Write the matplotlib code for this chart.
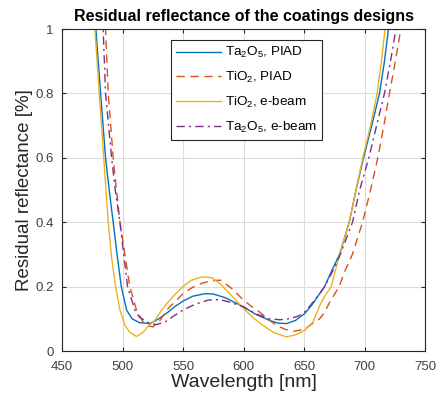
import matplotlib
matplotlib.use("Agg")
import matplotlib.pyplot as plt

plt.rcParams['font.family'] = ['Liberation Sans', 'DejaVu Sans']
plt.rcParams['mathtext.fontset'] = 'custom'
plt.rcParams['mathtext.rm'] = 'Liberation Sans'

# --- data (wavelength [nm], residual reflectance [%]) ---
wl_ta_piad = [476, 478, 481.9, 486, 489, 492.3, 495.5, 499, 503.4, 508, 514, 522.6, 530, 537.7, 544, 550,
              558, 568, 575, 584.5, 592, 600, 610, 621.6, 628, 635.4, 643, 650.5, 657, 662.9, 667, 673,
              679.4, 687.4, 693, 699.2, 706, 712.4, 716.5, 719.8, 722]
r_ta_piad = [1.12, 1.0, 0.8, 0.6, 0.5, 0.4, 0.3, 0.2, 0.127, 0.1, 0.088, 0.085, 0.1, 0.121, 0.14, 0.155,
             0.17, 0.178, 0.177, 0.166, 0.152, 0.137, 0.114, 0.095, 0.087, 0.085, 0.095, 0.116, 0.145, 0.178, 0.2, 0.25,
             0.3, 0.4, 0.5, 0.6, 0.7, 0.8, 0.9, 1.0, 1.07]

wl_ti_piad = [484, 486, 488.2, 492.3, 495, 497.9, 502, 506, 511.6, 517, 521, 525.3, 531, 537.7, 544, 550,
              558, 565.3, 573, 581, 590, 600, 606, 613.3, 620, 627, 634, 640.8, 647, 653.3, 658, 662.9,
              667, 671, 675, 679, 684, 690, 698.4, 705, 711, 716, 720.6, 725.5, 730, 732]
r_ti_piad = [1.12, 1.0, 0.8, 0.6, 0.5, 0.4, 0.3, 0.2, 0.127, 0.09, 0.078, 0.075, 0.095, 0.132, 0.155, 0.178,
             0.198, 0.21, 0.218, 0.22, 0.195, 0.158, 0.14, 0.121, 0.1, 0.08, 0.068, 0.061, 0.065, 0.075, 0.088, 0.1,
             0.12, 0.15, 0.175, 0.2, 0.25, 0.3, 0.4, 0.5, 0.6, 0.7, 0.8, 0.9, 1.0, 1.05]

wl_ti_eb = [475, 477.2, 480.8, 484.5, 488.2, 491, 494.3, 497.9, 502, 506, 511.6, 517, 522, 526.7, 532, 537.7,
            544, 550, 557, 565.3, 573.5, 580.4, 590, 600, 608, 616, 625, 635.4, 643, 650.5, 657.4, 662.9,
            667, 672.5, 679.4, 687.4, 693, 698.6, 705, 710.4, 714, 717, 719]
r_ti_eb = [1.12, 1.0, 0.8, 0.6, 0.4, 0.29, 0.2, 0.127, 0.08, 0.058, 0.045, 0.058, 0.08, 0.095, 0.125, 0.152,
           0.178, 0.2, 0.22, 0.23, 0.228, 0.21, 0.172, 0.132, 0.103, 0.08, 0.057, 0.044, 0.05, 0.064, 0.09, 0.14,
           0.17, 0.2, 0.3, 0.4, 0.5, 0.6, 0.7, 0.8, 0.9, 1.0, 1.08]

wl_ta_eb = [482, 484, 486, 491, 494, 497.9, 501, 504.2, 510.2, 514, 518.5, 523, 528, 535, 542, 550,
            560, 570.8, 580.4, 590, 600, 610, 621.6, 630, 638, 645, 650.5, 656, 662, 667, 674, 680,
            690.1, 696, 703.6, 710, 716.5, 721.5, 726, 728]
r_ta_eb = [1.12, 1.0, 0.8, 0.6, 0.5, 0.4, 0.3, 0.2, 0.127, 0.105, 0.095, 0.085, 0.082, 0.09, 0.108, 0.127,
           0.145, 0.158, 0.16, 0.15, 0.137, 0.116, 0.1, 0.097, 0.1, 0.108, 0.121, 0.145, 0.173, 0.2, 0.25, 0.3,
           0.4, 0.5, 0.6, 0.7, 0.8, 0.9, 1.0, 1.06]

labels = [r'Ta$_\mathregular{2}$O$_\mathregular{5}$, PIAD',
          r'TiO$_\mathregular{2}$, PIAD',
          r'TiO$_\mathregular{2}$, e-beam',
          r'Ta$_\mathregular{2}$O$_\mathregular{5}$, e-beam']
xticks = [450, 500, 550, 600, 650, 700, 750]
yticks = [0, 0.2, 0.4, 0.6, 0.8, 1]
yticklabels = ['0', '0.2', '0.4', '0.6', '0.8', '1']

fig = plt.figure(figsize=(4.36, 4.03), dpi=100)
ax = fig.add_axes([62/436, 1 - 351/403, 363/436, 322/403])

ax.plot(wl_ta_piad, r_ta_piad, color='#0072BD', lw=1.0, label=labels[0])
ax.plot(wl_ti_piad, r_ti_piad, color='#D95319', lw=1.0, ls=(0, (6, 4)), label=labels[1])
ax.plot(wl_ti_eb, r_ti_eb, color='#EDB120', lw=1.0, label=labels[2])
ax.plot(wl_ta_eb, r_ta_eb, color='#7E2F8E', lw=1.0, ls=(0, (6, 3, 1.5, 3)), label=labels[3])

ax.set_xlim(450, 750)
ax.set_ylim(0, 1)
ax.set_xticks(xticks)
ax.set_yticks(yticks)
ax.set_yticklabels(yticklabels)
ax.grid(True, color='#dcdcdc', lw=0.8)
ax.set_axisbelow(True)
for s in ax.spines.values():
    s.set_color('#262626')
    s.set_linewidth(0.8)
ax.tick_params(direction='in', top=True, right=True, length=3, width=0.8,
               labelsize=9.5, colors='#262626', labelcolor='#404040')
ax.tick_params(axis='x', pad=7)
ax.tick_params(axis='y', pad=6)

ax.set_xlabel('Wavelength [nm]', fontsize=14, color='#262626', labelpad=1)
ax.set_ylabel('Residual reflectance [%]', fontsize=13.5, color='#262626', labelpad=2)
ax.set_title('Residual reflectance of the coatings designs', fontsize=11.5, fontweight='bold', pad=6)

leg = ax.legend(loc='upper left', bbox_to_anchor=((170.7-62)/363, (351-40)/322), fontsize=9.7,
                frameon=True, fancybox=False, handlelength=3.3, borderpad=0.4,
                labelspacing=0.72, handletextpad=0.3, borderaxespad=0)
leg.get_frame().set_edgecolor('#262626')
leg.get_frame().set_linewidth(0.8)
leg.get_frame().set_alpha(1)

fig.savefig('out.png', dpi=100)
